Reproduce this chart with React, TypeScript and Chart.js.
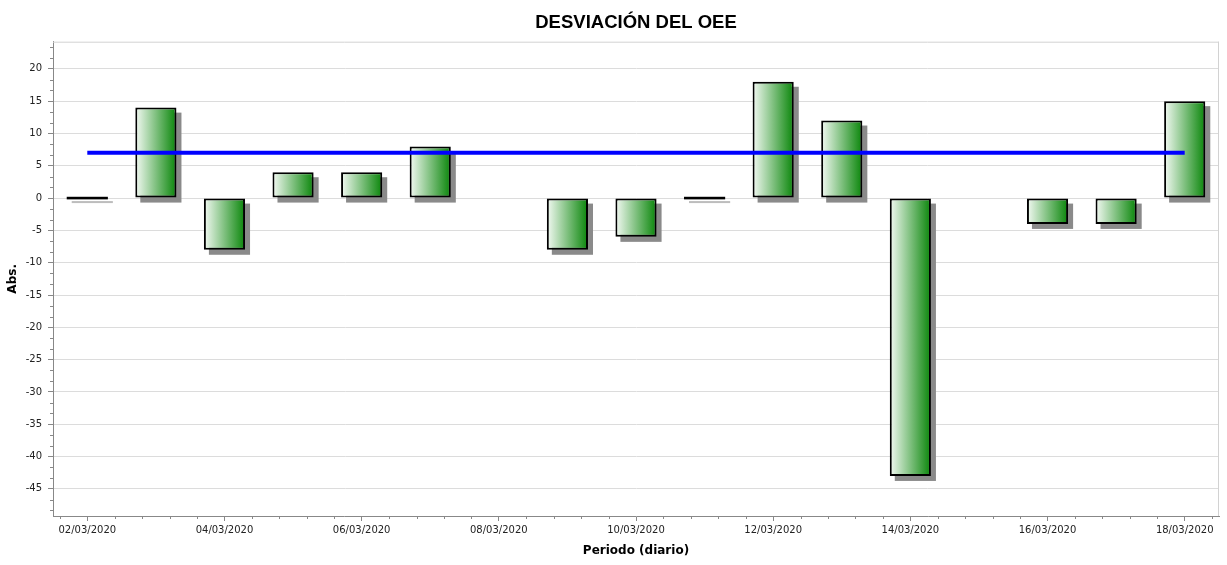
import React, { useEffect, useRef } from 'react';
import { Chart, registerables } from 'chart.js';

Chart.register(...registerables);

const categories = [
  '02/03/2020', '03/03/2020', '04/03/2020', '05/03/2020', '06/03/2020', '07/03/2020',
  '08/03/2020', '09/03/2020', '10/03/2020', '11/03/2020', '12/03/2020', '13/03/2020',
  '14/03/2020', '15/03/2020', '16/03/2020', '17/03/2020', '18/03/2020',
];
const deviation: (number | null)[] = [0, 14, -8, 4, 4, 8, null, -8, -6, 0, 18, 12, -43, null, -4, -4, 15];
const average = [7, 7, 7, 7, 7, 7, 7, 7, 7, 7, 7, 7, 7, 7, 7, 7, 7];
const yMin = -49.2;
const yMax = 24.2;

const TEXT_FONT = 'DejaVu Sans';

const decorPlugin = {
  id: 'decor',
  beforeDatasetsDraw(chart: any) {
    const ctx = chart.ctx;
    const { left, right, top, bottom } = chart.chartArea;
    ctx.save();
    ctx.strokeStyle = '#d2d2d2';
    ctx.lineWidth = 1;
    ctx.beginPath();
    ctx.moveTo(left, top + 0.5);
    ctx.lineTo(right, top + 0.5);
    ctx.moveTo(right - 0.5, top);
    ctx.lineTo(right - 0.5, bottom);
    ctx.stroke();
    const meta = chart.getDatasetMeta(0);
    meta.data.forEach((el: any, i: number) => {
      const v = deviation[i];
      if (v == null) return;
      const { x, y, base, width } = el.getProps(['x', 'y', 'base', 'width'], true);
      if (v === 0) {
        ctx.fillStyle = '#bdbdbd';
        ctx.fillRect(x - width / 2 + 5, base + 3, width, 2);
      } else {
        ctx.fillStyle = '#8a8a8a';
        const t = Math.min(y, base);
        const h = Math.abs(base - y);
        ctx.fillRect(x - width / 2 + 5, t + 5, width, h);
      }
    });
    ctx.restore();
  },
  afterDatasetDraw(chart: any, args: any) {
    if (args.index !== 0) return;
    const ctx = chart.ctx;
    const meta = chart.getDatasetMeta(0);
    ctx.save();
    meta.data.forEach((el: any, i: number) => {
      if (deviation[i] !== 0) return;
      const { x, base, width } = el.getProps(['x', 'base', 'width'], true);
      ctx.fillStyle = '#000';
      ctx.fillRect(x - width / 2, base - 1.3, width, 2.6);
    });
    ctx.restore();
  },
  afterDraw(chart: any) {
    const ctx = chart.ctx;
    const { left, right, bottom } = chart.chartArea;
    const sx = chart.scales.x;
    const sy = chart.scales.y;
    ctx.save();
    ctx.strokeStyle = '#888';
    ctx.lineWidth = 1;
    ctx.beginPath();
    const x0 = sx.getPixelForValue(0);
    const step = sx.getPixelForValue(1) - x0;
    for (let k = -3; k <= 45; k++) {
      if (k % 5 === 0) continue;
      const px = Math.round(x0 + k * 0.4 * step) + 0.5;
      if (px <= left || px >= right) continue;
      ctx.moveTo(px, bottom);
      ctx.lineTo(px, bottom + 3);
    }
    const kMin = Math.ceil((yMin * 3) / 5);
    const kMax = Math.floor((yMax * 3) / 5);
    for (let k = kMin; k <= kMax; k++) {
      if (k % 3 === 0) continue;
      const py = Math.round(sy.getPixelForValue((k * 5) / 3)) + 0.5;
      ctx.moveTo(left - 3, py);
      ctx.lineTo(left, py);
    }
    ctx.stroke();
    ctx.restore();
  },
};

function barGradient(c: any) {
  const chart = c.chart;
  const sx = chart.scales && chart.scales.x;
  if (!sx || !chart.chartArea) return '#5aa85a';
  const cx = sx.getPixelForValue(c.dataIndex);
  const w = (sx.getPixelForValue(1) - sx.getPixelForValue(0)) * 0.6;
  if (!isFinite(cx) || !isFinite(w)) return '#5aa85a';
  const g = chart.ctx.createLinearGradient(cx - w / 2, 0, cx + w / 2, 0);
  g.addColorStop(0, '#f4faf4');
  g.addColorStop(1, '#0a860a');
  return g;
}

export default function App() {
  const ref = useRef<HTMLCanvasElement | null>(null);
  useEffect(() => {
    if (!ref.current) return;
    const chart = new Chart(ref.current, {
      type: 'bar',
      data: {
        labels: categories,
        datasets: [
          {
            type: 'bar',
            label: 'Desviación',
            data: deviation,
            backgroundColor: barGradient,
            borderColor: '#000',
            borderWidth: 2,
            borderSkipped: false,
            categoryPercentage: 1,
            barPercentage: 0.6,
            order: 1,
          } as any,
          {
            type: 'line',
            label: 'Media',
            data: average,
            borderColor: '#0000ff',
            borderWidth: 4,
            pointRadius: 0,
            fill: false,
            order: 0,
          } as any,
        ],
      },
      options: {
        animation: false,
        responsive: true,
        maintainAspectRatio: false,
        layout: { padding: { left: 0, right: 8, top: 0, bottom: 0 } },
        plugins: {
          legend: { display: false },
          tooltip: { enabled: false },
          title: {
            display: true,
            text: 'DESVIACIÓN DEL OEE',
            fullSize: false,
            color: '#000',
            font: { family: 'Liberation Sans', weight: 'bold', size: 18.5 },
            padding: { top: 11.5, bottom: 8 },
          },
        },
        scales: {
          x: {
            type: 'category',
            offset: true,
            afterFit: (s: any) => { s.height = 49; },
            border: { display: true, color: '#888' },
            grid: {
              offset: false,
              drawOnChartArea: false,
              drawTicks: true,
              tickLength: 5,
              tickColor: (c: any) => (c.index % 2 === 0 ? '#888' : 'rgba(0,0,0,0)'),
            },
            ticks: {
              autoSkip: false,
              maxRotation: 0,
              minRotation: 0,
              padding: 3,
              color: '#222',
              font: { family: TEXT_FONT, size: 10 },
              callback: (_v: any, i: number) => (i % 2 === 0 ? categories[i] : ''),
            },
            title: {
              display: true,
              text: 'Periodo (diario)',
              color: '#000',
              font: { family: TEXT_FONT, weight: 'bold', size: 12 },
              padding: { top: 0, bottom: 7 },
            },
          },
          y: {
            type: 'linear',
            min: yMin,
            max: yMax,
            afterFit: (s: any) => { s.width = 53; },
            afterBuildTicks: (s: any) => { s.ticks = s.ticks.filter((t: any) => Math.abs(t.value % 5) < 1e-9); },
            border: { display: true, color: '#888' },
            grid: {
              color: '#dcdcdc',
              drawTicks: true,
              tickLength: 5,
              tickColor: '#888',
            },
            ticks: {
              stepSize: 5,
              includeBounds: false,
              padding: 6,
              color: '#222',
              font: { family: TEXT_FONT, size: 10 },
            },
            title: {
              display: true,
              text: 'Abs.',
              color: '#000',
              font: { family: TEXT_FONT, weight: 'bold', size: 12 },
              padding: { top: 6, bottom: 0 },
            },
          },
        },
      },
      plugins: [decorPlugin],
    } as any);
    return () => chart.destroy();
  }, []);
  return (
    <div style={{ position: 'absolute', left: 0, top: 0, width: 1227, height: 565, background: '#fff' }}>
      <canvas ref={ref} />
    </div>
  );
}
